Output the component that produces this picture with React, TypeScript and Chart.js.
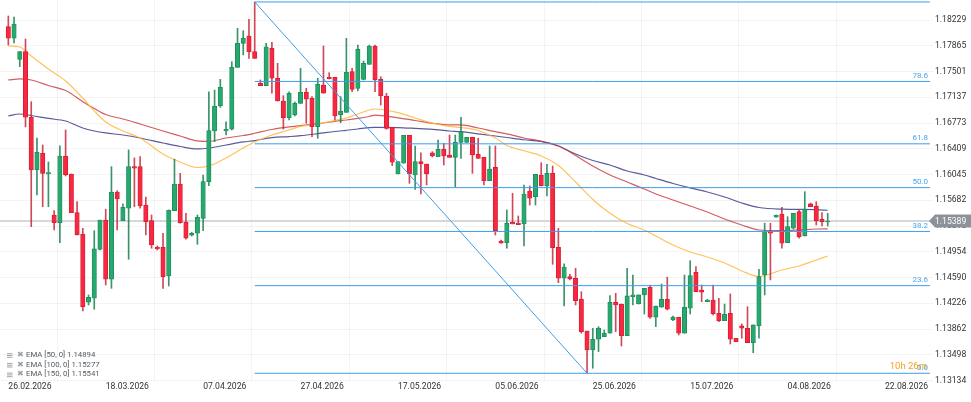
import { useEffect, useRef } from "react";
import { Chart, registerables } from "chart.js";

Chart.register(...registerables);
Chart.defaults.font.family = "Roboto, 'Noto Sans', sans-serif";

// OHLC của từng nến, chỉ số 0 = 26.02.2026
const openPrices = [
  1.18135, 1.17971, 1.17674, 1.17782, 1.16855, 1.1611, 1.16346, 1.16053, 1.15474, 1.15365,
  1.16308, 1.16053, 1.15507, 1.15201, 1.14241, 1.14297, 1.14989, 1.15403, 1.14566, 1.15799,
  1.15394, 1.15569, 1.16157, 1.16157, 1.15615, 1.15394, 1.15018, 1.15018, 1.14612, 1.15535,
  1.15912, 1.15371, 1.15187, 1.15216, 1.15427, 1.15945, 1.16661, 1.17014, 1.16661, 1.16685,
  1.17561, 1.179, 1.18003, 1.17782, 1.17335, 1.17301, 1.1783, 1.17406, 1.17085, 1.16849,
  1.16887, 1.17052, 1.17208, 1.17123, 1.16722, 1.17311, 1.1742, 1.1742, 1.16887, 1.16925,
  1.17499, 1.17264, 1.17391, 1.17603, 1.17862, 1.17391, 1.17156, 1.16713, 1.16053, 1.16205,
  1.166, 1.16039, 1.16227, 1.16195, 1.16354, 1.16298, 1.16402, 1.16322, 1.16289, 1.16501,
  1.16501, 1.16572, 1.16332, 1.16289, 1.15959, 1.16148, 1.15107, 1.15083, 1.15371, 1.15361,
  1.15347, 1.15813, 1.15733, 1.16039, 1.15884, 1.16063, 1.15018, 1.1458, 1.14602, 1.1458,
  1.14287, 1.13835, 1.13567, 1.13718, 1.13754, 1.13803, 1.14241, 1.14216, 1.13769, 1.1432,
  1.14216, 1.14344, 1.14452, 1.14029, 1.1417, 1.14283, 1.1399, 1.14029, 1.13803, 1.14156,
  1.14664, 1.14414, 1.14249, 1.14273, 1.14085, 1.13981, 1.14085, 1.13732, 1.13906, 1.13873,
  1.1367, 1.13906, 1.14626, 1.15238, 1.15442, 1.15488, 1.15083, 1.15286, 1.15521, 1.15177,
  1.1563, 1.15601, 1.15413, 1.15375,
];
const highPrices = [
  1.18286, 1.18272, 1.17782, 1.17961, 1.17075, 1.16562, 1.16463, 1.16223, 1.15535, 1.16453,
  1.16675, 1.16053, 1.15662, 1.15286, 1.14344, 1.15252, 1.15403, 1.15555, 1.16157, 1.15817,
  1.1563, 1.16393, 1.1628, 1.16298, 1.15728, 1.15474, 1.15036, 1.15216, 1.15545, 1.16261,
  1.16063, 1.15498, 1.1523, 1.15474, 1.16039, 1.17216, 1.1724, 1.17391, 1.16792, 1.1764,
  1.18112, 1.18078, 1.18239, 1.18484, 1.17382, 1.179, 1.17914, 1.17618, 1.1716, 1.17216,
  1.17071, 1.17547, 1.17264, 1.17146, 1.17406, 1.17862, 1.17485, 1.1742, 1.17146, 1.17971,
  1.17547, 1.17876, 1.1765, 1.17876, 1.17876, 1.17428, 1.17194, 1.16713, 1.16227, 1.166,
  1.166, 1.16449, 1.16354, 1.16195, 1.16369, 1.16534, 1.16487, 1.16604, 1.16604, 1.16855,
  1.16572, 1.16572, 1.16558, 1.16289, 1.16449, 1.16449, 1.15121, 1.15545, 1.15781, 1.1546,
  1.15898, 1.15884, 1.16049, 1.16213, 1.1619, 1.16166, 1.15286, 1.14782, 1.14636, 1.14721,
  1.1439, 1.13835, 1.13873, 1.13896, 1.13849, 1.14334, 1.14368, 1.14216, 1.14721, 1.14626,
  1.14344, 1.14438, 1.14485, 1.14188, 1.14499, 1.14594, 1.14047, 1.14029, 1.14626, 1.14828,
  1.14744, 1.14485, 1.14283, 1.14485, 1.14297, 1.14216, 1.14358, 1.13732, 1.13934, 1.14178,
  1.1392, 1.14707, 1.15357, 1.15357, 1.15474, 1.15583, 1.1545, 1.15498, 1.15545, 1.15803,
  1.15644, 1.15662, 1.15507, 1.15498,
];
const lowPrices = [
  1.17876, 1.17904, 1.1757, 1.16718, 1.15309, 1.15757, 1.15591, 1.15591, 1.15262, 1.15083,
  1.16025, 1.15507, 1.15191, 1.14118, 1.14202, 1.14142, 1.1498, 1.14485, 1.14438, 1.15262,
  1.15394, 1.14848, 1.15591, 1.15569, 1.15191, 1.15004, 1.1498, 1.14438, 1.14471, 1.15535,
  1.15357, 1.15131, 1.15177, 1.1506, 1.15252, 1.15888, 1.1651, 1.16996, 1.16604, 1.16675,
  1.17561, 1.17735, 1.17688, 1.17688, 1.17301, 1.17301, 1.17194, 1.17085, 1.16689, 1.16816,
  1.16873, 1.17052, 1.1677, 1.1658, 1.16558, 1.17194, 1.17396, 1.16816, 1.16778, 1.16925,
  1.17216, 1.17226, 1.17382, 1.17603, 1.17216, 1.17028, 1.16685, 1.16171, 1.16053, 1.16205,
  1.15922, 1.15837, 1.15771, 1.15898, 1.16294, 1.16298, 1.16181, 1.16289, 1.15874, 1.16275,
  1.16501, 1.16063, 1.16275, 1.15898, 1.15959, 1.15191, 1.15074, 1.15004, 1.15347, 1.15337,
  1.15036, 1.15615, 1.15615, 1.15884, 1.15743, 1.14777, 1.14517, 1.14188, 1.14556, 1.14202,
  1.13803, 1.13237, 1.13308, 1.13543, 1.13754, 1.13803, 1.13825, 1.13623, 1.13769, 1.14202,
  1.14216, 1.14075, 1.14014, 1.13896, 1.1417, 1.14132, 1.13981, 1.13778, 1.13803, 1.14075,
  1.1439, 1.14249, 1.14249, 1.14061, 1.13966, 1.13981, 1.13651, 1.13684, 1.13732, 1.1367,
  1.13528, 1.13732, 1.14344, 1.14556, 1.15442, 1.15004, 1.15083, 1.15276, 1.15145, 1.15177,
  1.15591, 1.15333, 1.15319, 1.15319,
];
const closePrices = [
  1.17971, 1.18173, 1.17782, 1.16855, 1.1611, 1.1636, 1.16063, 1.16072, 1.15365, 1.16308,
  1.16044, 1.15507, 1.15191, 1.14178, 1.14311, 1.14994, 1.15403, 1.14566, 1.15799, 1.157,
  1.15583, 1.16157, 1.16134, 1.15601, 1.15379, 1.1505, 1.14994, 1.14602, 1.15545, 1.15912,
  1.15365, 1.15145, 1.15216, 1.15442, 1.15945, 1.16665, 1.17014, 1.17279, 1.16685, 1.17561,
  1.179, 1.17971, 1.17782, 1.17688, 1.17301, 1.17852, 1.17406, 1.17085, 1.16849, 1.17194,
  1.17052, 1.17208, 1.17109, 1.16722, 1.17321, 1.17194, 1.17396, 1.16873, 1.16944, 1.1749,
  1.1725, 1.17815, 1.17618, 1.17862, 1.17382, 1.17156, 1.16699, 1.16219, 1.16227, 1.166,
  1.16053, 1.16227, 1.16195, 1.16053, 1.16308, 1.16402, 1.16308, 1.16289, 1.16501, 1.16651,
  1.16572, 1.16322, 1.16275, 1.15959, 1.16124, 1.15252, 1.15074, 1.15357, 1.15347, 1.15337,
  1.15771, 1.1571, 1.16049, 1.15884, 1.16063, 1.15012, 1.1458, 1.14739, 1.1457, 1.14263,
  1.13825, 1.13567, 1.13718, 1.13873, 1.13803, 1.14241, 1.14202, 1.13769, 1.1433, 1.14344,
  1.14344, 1.14438, 1.14029, 1.14188, 1.14283, 1.14142, 1.14029, 1.13803, 1.1417, 1.14616,
  1.1439, 1.14382, 1.14273, 1.14075, 1.13981, 1.14071, 1.13718, 1.13684, 1.13873, 1.1367,
  1.1392, 1.14602, 1.15238, 1.15216, 1.15474, 1.15074, 1.15309, 1.15498, 1.15167, 1.15555,
  1.15591, 1.15394, 1.15379, 1.15389,
];

// Đường EMA (đọc tại một số nến)
const emaIdx = [
  0, 2, 4, 7, 10, 13, 15, 17, 20, 23, 27, 30, 33, 35, 38, 41, 43, 46, 49, 51, 54, 57, 59, 61, 63, 64,
  68, 71, 74, 77, 79, 82, 85, 87, 90, 93, 96, 99, 102, 105, 108, 111, 113, 116, 119, 122, 125, 128,
  131, 135, 138, 141, 143,
];
const ema50 = [
  1.17862, 1.17848, 1.17721, 1.17537, 1.17368, 1.17127, 1.16944, 1.16788, 1.16661, 1.16562, 1.16336,
  1.16223, 1.16145, 1.16166, 1.1628, 1.16421, 1.16506, 1.16604, 1.16675, 1.16725, 1.1676, 1.16809,
  1.16845, 1.16901, 1.16958, 1.16972, 1.1692, 1.16845, 1.16774, 1.16725, 1.1671, 1.16668, 1.16562,
  1.16456, 1.16381, 1.16308, 1.16173, 1.1594, 1.15693, 1.15498, 1.15354, 1.15262, 1.15177, 1.1505,
  1.14951, 1.14881, 1.14796, 1.14683, 1.14605, 1.14697, 1.14753, 1.14838, 1.14894,
];
const ema100 = [
  1.17382, 1.17396, 1.17382, 1.17304, 1.17232, 1.17075, 1.16979, 1.16894, 1.16831, 1.1676, 1.16661,
  1.1659, 1.1652, 1.16513, 1.16562, 1.16597, 1.16629, 1.16682, 1.16718, 1.16736, 1.16764, 1.16798,
  1.16816, 1.16838, 1.16866, 1.16884, 1.16845, 1.16809, 1.1677, 1.16746, 1.16746, 1.16703, 1.16651,
  1.16619, 1.16562, 1.16515, 1.16449, 1.16315, 1.16166, 1.16039, 1.1594, 1.15841, 1.15771, 1.15686,
  1.15601, 1.15516, 1.15418, 1.15333, 1.15262, 1.15252, 1.15262, 1.15276, 1.15277,
];
const ema150 = [
  1.16873, 1.16901, 1.1688, 1.16838, 1.16802, 1.16703, 1.16661, 1.16633, 1.16604, 1.16562, 1.16491,
  1.16442, 1.16407, 1.16421, 1.16463, 1.16506, 1.16525, 1.16566, 1.16582, 1.16595, 1.16623, 1.16654,
  1.16671, 1.16689, 1.16709, 1.16713, 1.16709, 1.16698, 1.16685, 1.16661, 1.16651, 1.16621, 1.1659,
  1.16569, 1.16537, 1.16513, 1.16449, 1.16336, 1.16244, 1.16181, 1.16096, 1.16039, 1.1599, 1.15919,
  1.15856, 1.15799, 1.15728, 1.15644, 1.1558, 1.15556, 1.15553, 1.15549, 1.15541,
];

const xTickIdx = [0, 17, 34, 51, 68, 85, 102, 119, 136, 153];
const xTickLabels = [
  "26.02.2026", "18.03.2026", "07.04.2026", "27.04.2026", "17.05.2026",
  "05.06.2026", "25.06.2026", "15.07.2026", "04.08.2026", "22.08.2026",
];
const yTicks = [
  1.18229, 1.17865, 1.17501, 1.17137, 1.16773, 1.16409, 1.16045, 1.15682,
  1.15318, 1.14954, 1.1459, 1.14226, 1.13862, 1.13498, 1.13134,
];

// Fibonacci từ đỉnh (nến 43) tới đáy (nến 101)
const fibHighIdx = 43;
const fibLowIdx = 101;
const fibLevels = [0, 0.236, 0.382, 0.5, 0.618, 0.786, 1];
const fibLabels = ["0.0", "23.6", "38.2", "50.0", "61.8", "78.6", ""];

const lastPrice = 1.15389;
const legendItems = ["EMA [50, 0] 1.14894", "EMA [100, 0] 1.15277", "EMA [150, 0] 1.15541"];
const countdown = "10h 26m";

const X_MIN = -1.45;
const X_MAX = 160.85;
const Y_MIN = 1.13128;
const Y_MAX = 1.18512;

const UP = "#26a86e";
const UP_BORDER = "#1c8b58";
const DOWN = "#f7283f";
const DOWN_BORDER = "#d21c33";
const FIB = "#3d9eea";

const fibHigh = highPrices[fibHighIdx];
const fibLow = lowPrices[fibLowIdx];
const fibPrice = (lv: number) => fibLow + lv * (fibHigh - fibLow);

const overlayPlugin = {
  id: "overlay",
  afterDatasetsDraw(chart: any) {
    const { ctx, scales } = chart;
    const x = scales.x;
    const y = scales.y;
    ctx.save();
    // nhãn mức Fibonacci
    ctx.font = "8px Roboto";
    ctx.fillStyle = "#4aa5ec";
    ctx.textAlign = "right";
    ctx.textBaseline = "middle";
    fibLevels.forEach((lv, k) => {
      if (!fibLabels[k]) return;
      ctx.fillText(fibLabels[k], x.right - 2, y.getPixelForValue(fibPrice(lv)) - 5.5);
    });
    // đếm ngược
    ctx.font = "9.5px Roboto";
    ctx.fillStyle = "#f5a021";
    ctx.fillText(countdown, x.right - 3, y.getPixelForValue(fibLow) - 7);
    // chú thích EMA
    ctx.textAlign = "left";
    ctx.font = "7.8px Roboto";
    legendItems.forEach((t, k) => {
      const cy = y.bottom - 26 + k * 9.7;
      ctx.strokeStyle = "#a0a4a8";
      ctx.lineWidth = 1;
      for (let j = -1; j <= 1; j++) {
        ctx.beginPath();
        ctx.moveTo(x.left + 7, cy + j * 1.8 + 0.5);
        ctx.lineTo(x.left + 12.5, cy + j * 1.8 + 0.5);
        ctx.stroke();
      }
      ctx.fillStyle = "#9ea2a6";
      ctx.fillText("✖", x.left + 16.5, cy);
      ctx.fillStyle = "#555a5f";
      ctx.fillText(t, x.left + 26, cy);
    });
    ctx.restore();
  },
  afterDraw(chart: any) {
    const { ctx, scales } = chart;
    const y = scales.y;
    const py = y.getPixelForValue(lastPrice);
    const left = chart.chartArea.right - 1;
    ctx.save();
    ctx.fillStyle = "#8d9298";
    ctx.beginPath();
    ctx.moveTo(left, py);
    ctx.lineTo(left + 6, py - 6.5);
    ctx.lineTo(chart.width, py - 6.5);
    ctx.lineTo(chart.width, py + 6.5);
    ctx.lineTo(left + 6, py + 6.5);
    ctx.closePath();
    ctx.fill();
    ctx.fillStyle = "#ffffff";
    ctx.font = "8.6px Roboto";
    ctx.textAlign = "left";
    ctx.textBaseline = "middle";
    ctx.fillText(lastPrice.toFixed(5), left + 6, py + 0.5);
    ctx.restore();
  },
};

const CandleChart = () => {
  const chartRef = useRef<HTMLCanvasElement>(null);
  const chartInstance = useRef<Chart | null>(null);

  useEffect(() => {
    if (!chartRef.current) return;
    if (chartInstance.current) chartInstance.current.destroy();

    const idx = openPrices.map((_, i) => i);
    const isUp = idx.map((i) => closePrices[i] >= openPrices[i]);
    const emaData = (vals: number[]) => emaIdx.map((i, k) => ({ x: i, y: vals[k] }));
    const lineBase = { type: "line", pointRadius: 0, fill: false, borderWidth: 1 };

    const fibSets = fibLevels.map((lv) => ({
      ...lineBase,
      data: [
        { x: fibHighIdx, y: fibPrice(lv) },
        { x: X_MAX, y: fibPrice(lv) },
      ],
      borderColor: FIB,
      order: 0,
    }));

    const ctx = chartRef.current.getContext("2d");
    if (!ctx) return;
    chartInstance.current = new Chart(ctx, {
      type: "line",
      data: {
        datasets: [
          ...fibSets,
          {
            ...lineBase,
            data: [
              { x: fibHighIdx, y: fibHigh },
              { x: fibLowIdx, y: fibLow },
            ],
            borderColor: FIB,
            order: 0,
          },
          {
            type: "bar",
            data: idx.map((i) => ({ x: i, y: [openPrices[i], closePrices[i]] })),
            backgroundColor: isUp.map((u) => (u ? UP : DOWN)),
            borderColor: isUp.map((u) => (u ? UP_BORDER : DOWN_BORDER)),
            borderWidth: 0.8,
            borderSkipped: false,
            barThickness: 4.4,
            minBarLength: 1,
            grouped: false,
            order: 1,
          },
          {
            type: "bar",
            data: idx.map((i) => ({ x: i, y: [lowPrices[i], highPrices[i]] })),
            backgroundColor: isUp.map((u) => (u ? "rgba(24,128,80,0.85)" : "rgba(196,28,48,0.8)")),
            borderWidth: 0,
            barThickness: 1,
            grouped: false,
            order: 2,
          },
          { ...lineBase, data: emaData(ema50), borderColor: "rgba(255,184,60,0.85)", borderWidth: 1.2, cubicInterpolationMode: "monotone", order: 3 },
          { ...lineBase, data: emaData(ema100), borderColor: "rgba(200,52,56,0.8)", borderWidth: 1.2, cubicInterpolationMode: "monotone", order: 3 },
          { ...lineBase, data: emaData(ema150), borderColor: "rgba(48,50,130,0.8)", borderWidth: 1.2, cubicInterpolationMode: "monotone", order: 3 },
          {
            ...lineBase,
            data: [
              { x: X_MIN, y: lastPrice },
              { x: X_MAX, y: lastPrice },
            ],
            borderColor: "#d4d7db",
            borderWidth: 2,
            order: 4,
          },
        ] as any,
      },
      options: {
        responsive: true,
        maintainAspectRatio: false,
        animation: false,
        events: [],
        layout: { padding: 0 },
        plugins: {
          legend: { display: false },
          tooltip: { enabled: false },
        },
        scales: {
          x: {
            type: "linear",
            min: X_MIN,
            max: X_MAX,
            offset: false,
            grid: { color: "rgba(0,0,0,0.045)", drawTicks: false },
            border: { display: false },
            afterBuildTicks: (scale: any) => {
              scale.ticks = xTickIdx.map((v) => ({ value: v }));
            },
            afterFit: (scale: any) => {
              scale.height = 21;
              scale.paddingLeft = 0;
              scale.paddingRight = 0;
            },
            ticks: {
              autoSkip: false,
              maxRotation: 0,
              align: "start",
              padding: 1,
              color: "#333",
              font: { size: 8.6 },
              callback: (_v: any, i: number) => xTickLabels[i],
            },
          },
          y: {
            type: "linear",
            position: "right",
            min: Y_MIN,
            max: Y_MAX,
            grid: { color: "rgba(0,0,0,0.045)", tickLength: 3 },
            border: { display: false },
            afterBuildTicks: (scale: any) => {
              scale.ticks = yTicks.map((v) => ({ value: v }));
            },
            afterFit: (scale: any) => {
              scale.width = 41;
              scale.paddingTop = 0;
              scale.paddingBottom = 0;
            },
            ticks: {
              padding: 2,
              color: "#333",
              font: { size: 8.6 },
              callback: (v: any) => Number(v).toFixed(5),
            },
          },
        },
      } as any,
      plugins: [overlayPlugin],
    });

    return () => {
      if (chartInstance.current) {
        chartInstance.current.destroy();
        chartInstance.current = null;
      }
    };
  }, []);

  return (
    <div style={{ position: "fixed", left: 0, top: 0, width: 971, height: 402, background: "#fff" }}>
      <canvas ref={chartRef} />
    </div>
  );
};

export default function App() {
  return <CandleChart />;
}
